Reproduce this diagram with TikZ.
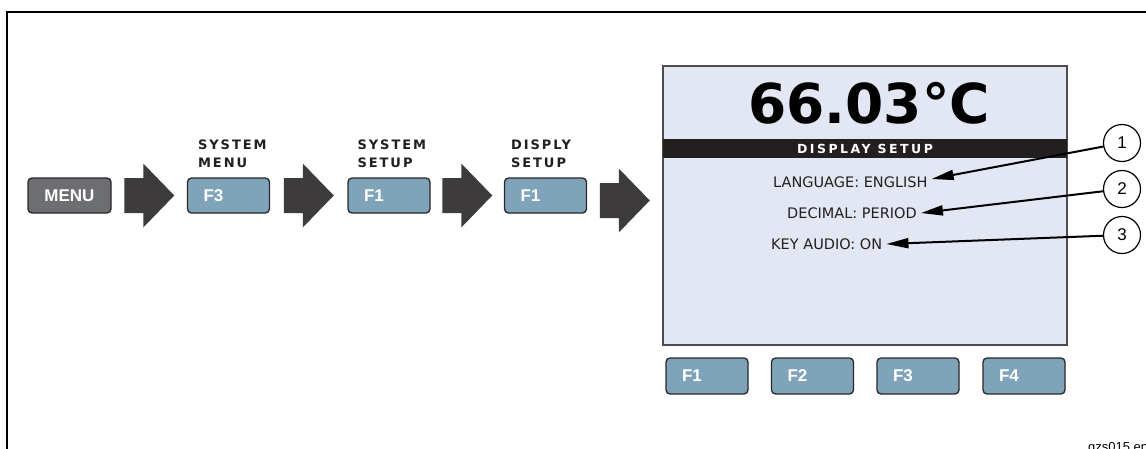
\documentclass[tikz,border=0pt]{standalone}
\usepackage{fontspec}
\setmainfont{DejaVu Sans}
\newfontfamily\keyfont{Liberation Sans}
\newfontfamily\spacedfont[LetterSpace=15]{DejaVu Sans}
\newfontfamily\barfont[LetterSpace=20]{DejaVu Sans}
\usetikzlibrary{arrows.meta,calc}

\definecolor{keyblue}{RGB}{127,163,185}
\definecolor{keyedge}{RGB}{40,40,42}
\definecolor{menugray}{RGB}{109,110,113}
\definecolor{arrowgray}{RGB}{61,59,60}
\definecolor{lcdfill}{RGB}{227,231,243}
\definecolor{lcdedge}{RGB}{77,77,79}
\definecolor{inkdark}{RGB}{35,31,32}

\tikzset{
  key/.style={draw=keyedge, line width=1.3pt, rounded corners=4pt, fill=keyblue,
    minimum height=35pt, text width=50pt, inner xsep=16pt, inner ysep=0pt,
    align=left, text=white, font=\keyfont\bfseries\fontsize{17}{17}\selectfont},
  menukey/.style={key, fill=menugray, text width=51pt, align=center},
  softkey/.style={key, minimum height=36pt},
  steplabel/.style={inner sep=0pt, align=left, text=inkdark,
    font=\spacedfont\bfseries\fontsize{13}{18}\selectfont},
  lcd/.style={draw=lcdedge, line width=1.3pt, fill=lcdfill,
    minimum width=404pt, minimum height=279pt, inner sep=0pt},
  titlebar/.style={fill=inkdark, text=white, minimum width=404pt, minimum height=19pt,
    inner sep=0pt, font=\barfont\bfseries\fontsize{12.5}{12.5}\selectfont},
  item/.style={anchor=west, inner xsep=4pt, inner ysep=0pt, text=inkdark,
    font=\fontsize{14.5}{14.5}\selectfont},
  callnum/.style={circle, draw=black, line width=1.2pt, fill=white, minimum size=37pt,
    inner sep=0pt, font=\keyfont\fontsize{17}{17}\selectfont},
  callout/.style={line width=2pt, -{Triangle[length=22pt,width=10pt]}},
  blockarrow/.pic={\fill[arrowgray] (-25,-17.5) -- (-6,-17.5) -- (-6,-32) -- (25,0)
    -- (-6,32) -- (-6,17.5) -- (-25,17.5) -- cycle;}
}

\begin{document}
\begin{tikzpicture}[x=1pt,y=-1pt]
\useasboundingbox (0,0) rectangle (1146,448);
\fill[white] (0,0) rectangle (1146,448);

% frame corner
\draw[line width=2pt] (7,449) -- (7,12) -- (1147,12);

% key sequence
\node[menukey] (menu) at (69.5,195.5) {MENU};
\node[key] (k1) at (228.5,195.5) {F3};
\node[key] (k2) at (389,195.5) {F1};
\node[key] (k3) at (545.5,195.5) {F1};

\node[steplabel, anchor=south west] (lab1) at ([xshift=11pt,yshift=9pt]k1.north west) {SYSTEM\\MENU};
\node[steplabel, anchor=south west] (lab2) at ([xshift=10pt,yshift=9pt]k2.north west) {SYSTEM\\SETUP};
\node[steplabel, anchor=south west] (lab3) at ([xshift=7pt,yshift=9pt]k3.north west) {DISPLY\\SETUP};

% display
\node[lcd] (screen) at (865,205.5) {};
\node[anchor=base, inner sep=0pt, text=black,
  font=\bfseries\fontsize{55}{55}\selectfont] (temp) at (869,123) {66.03°C};
\node[titlebar] (bar) at (865,148.5) {DISPLAY SETUP};
\node[item] (lang) at (769,182) {LANGUAGE: ENGLISH};
\node[item] (dec) at (783,213) {DECIMAL: PERIOD};
\node[item] (audio) at (767,244) {KEY AUDIO: ON};

% block arrows between steps
\pic at ($(menu.east)!0.5!(k1.west)$) {blockarrow};
\pic at ($(k1.east)!0.5!(k2.west)$) {blockarrow};
\pic at ($(k2.east)!0.5!(k3.west)$) {blockarrow};
\pic at ($(k3.east)!0.5!(screen.west)$) {blockarrow};

% soft keys
\node[softkey] (s1) at (707,376) {F1};
\node[softkey] (s2) at (812.5,376) {F2};
\node[softkey] (s3) at (918,376) {F3};
\node[softkey] (s4) at (1024,376) {F4};

% callouts
\node[callnum] (c1) at (1122,143) {1};
\node[callnum] (c2) at (1122,189) {2};
\node[callnum] (c3) at (1122,235) {3};
\draw[callout] (c1) -- ([yshift=3pt]lang.east);
\draw[callout] (c2) -- (dec.east);
\draw[callout] (c3) -- (audio.east);

% file id, running off the lower right corner
\node[anchor=base west, inner sep=0pt, font=\keyfont\fontsize{13}{13}\selectfont] (fileid) at (1088,451) {gzs015.eps};
\end{tikzpicture}
\end{document}
